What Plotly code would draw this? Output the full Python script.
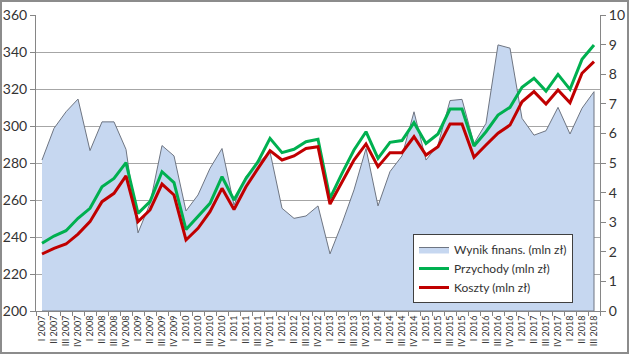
import plotly.graph_objects as go

quarters = ["I", "II", "III", "IV"]
categories = [f"{q} {y}" for y in range(2007, 2019) for q in quarters][:47]

wynik = [5.10, 6.17, 6.73, 7.16, 5.42, 6.39, 6.39, 5.46, 2.64, 3.63, 5.59, 5.24,
         3.38, 3.92, 4.82, 5.49, 3.58, 4.54, 4.99, 5.38, 3.47, 3.13, 3.21, 3.55,
         1.93, 2.96, 4.09, 5.49, 3.55, 4.71, 5.24, 6.73, 5.10, 5.61, 7.11, 7.15,
         5.66, 6.34, 8.99, 8.88, 6.51, 5.94, 6.09, 6.88, 5.98, 6.85, 7.41]

przychody = [236.6, 240.5, 243.4, 250.1, 255.5, 267.2, 271.7, 280.2, 252.8, 259.1, 275.3, 269.4,
             244.0, 251.0, 258.2, 272.6, 260.0, 271.7, 280.7, 293.3, 285.6, 287.4, 291.5, 292.8,
             260.9, 274.4, 287.0, 296.9, 282.5, 291.2, 292.1, 301.8, 290.6, 295.7, 309.2, 309.2,
             289.2, 296.9, 305.9, 310.1, 320.9, 325.8, 318.9, 327.9, 319.8, 336.0, 343.8]

koszty = [230.8, 233.9, 236.2, 241.6, 248.3, 259.1, 263.6, 273.0, 248.3, 254.6, 268.6, 262.7,
          238.4, 244.7, 253.7, 266.3, 254.9, 267.2, 277.1, 286.7, 281.6, 283.8, 287.9, 288.8,
          257.8, 269.9, 281.6, 290.3, 278.0, 285.6, 285.6, 294.2, 284.3, 288.8, 301.1, 301.1,
          283.1, 289.7, 296.1, 300.5, 313.1, 318.6, 311.9, 319.5, 312.6, 328.5, 334.8]

names = ["Wynik finans. (mln zł)", "Przychody (mln zł)", "Koszty (mln zł)"]

FONT = "Lato, 'Open Sans', sans-serif"
TXT = "#333333"
AX = "#868686"

fig = go.Figure()

# closed area polygon (down to zero at both ends)
area_x = categories + [categories[-1], categories[0]]
area_y = wynik + [0, 0]
fig.add_trace(go.Scatter(
    x=area_x, y=area_y, name=names[0], mode="lines", fill="toself",
    fillcolor="#C6D7F0", line=dict(color="#6E7582", width=1),
    yaxis="y", hoverinfo="skip"))

fig.add_trace(go.Scatter(
    x=categories, y=przychody, name=names[1], mode="lines",
    line=dict(color="#00B050", width=3), yaxis="y2"))
fig.add_trace(go.Scatter(
    x=categories, y=koszty, name=names[2], mode="lines",
    line=dict(color="#C00000", width=3), yaxis="y2"))

W, H = 629, 354
L, R, T, B = 36, 29, 15, 43
pw, ph = W - L - R, H - T - B

fig.update_layout(
    width=W, height=H,
    margin=dict(l=L, r=R, t=T, b=B, pad=0, autoexpand=False),
    paper_bgcolor="white", plot_bgcolor="white",
    font=dict(family=FONT, color=TXT, size=13),
    showlegend=True,
    legend=dict(
        x=(573 - L) / pw, xanchor="right",
        y=(311 - 303) / ph, yanchor="bottom",
        bgcolor="white", bordercolor="#404040", borderwidth=1,
        font=dict(size=12, color=TXT, family=FONT),
        tracegroupgap=0, itemwidth=30,
    ),
    xaxis=dict(
        type="category", categoryorder="array", categoryarray=categories,
        range=[-0.5, len(categories) - 0.5], automargin=False,
        tickangle=-90, tickfont=dict(size=9, color=TXT),
        ticks="outside", tickson="boundaries", ticklen=4, tickcolor=AX,
        showline=True, linecolor=AX, linewidth=1, showgrid=False,
    ),
    yaxis=dict(
        side="right", range=[0, 10], dtick=1, tick0=0, automargin=False,
        ticks="outside", ticklen=5, tickcolor=AX,
        showline=True, linecolor=AX, linewidth=1,
        showgrid=False, zeroline=False,
        tickfont=dict(size=14, color=TXT),
    ),
    yaxis2=dict(
        side="left", overlaying="y", range=[200, 360], dtick=20, tick0=200,
        automargin=False,
        ticks="outside", ticklen=5, tickcolor=AX,
        showline=True, linecolor=AX, linewidth=1,
        showgrid=True, gridcolor="#A6A6A6", gridwidth=1, zeroline=False,
        tickfont=dict(size=14, color=TXT),
    ),
    shapes=[dict(
        type="rect", xref="paper", yref="paper",
        x0=(-L + 1) / pw, x1=(W - L - 1) / pw,
        y0=(-B + 1) / ph, y1=(H - B - 1) / ph,
        line=dict(color="#8C8C8C", width=2), fillcolor="rgba(0,0,0,0)", layer="above",
    )],
)

fig.write_html("out.html")
